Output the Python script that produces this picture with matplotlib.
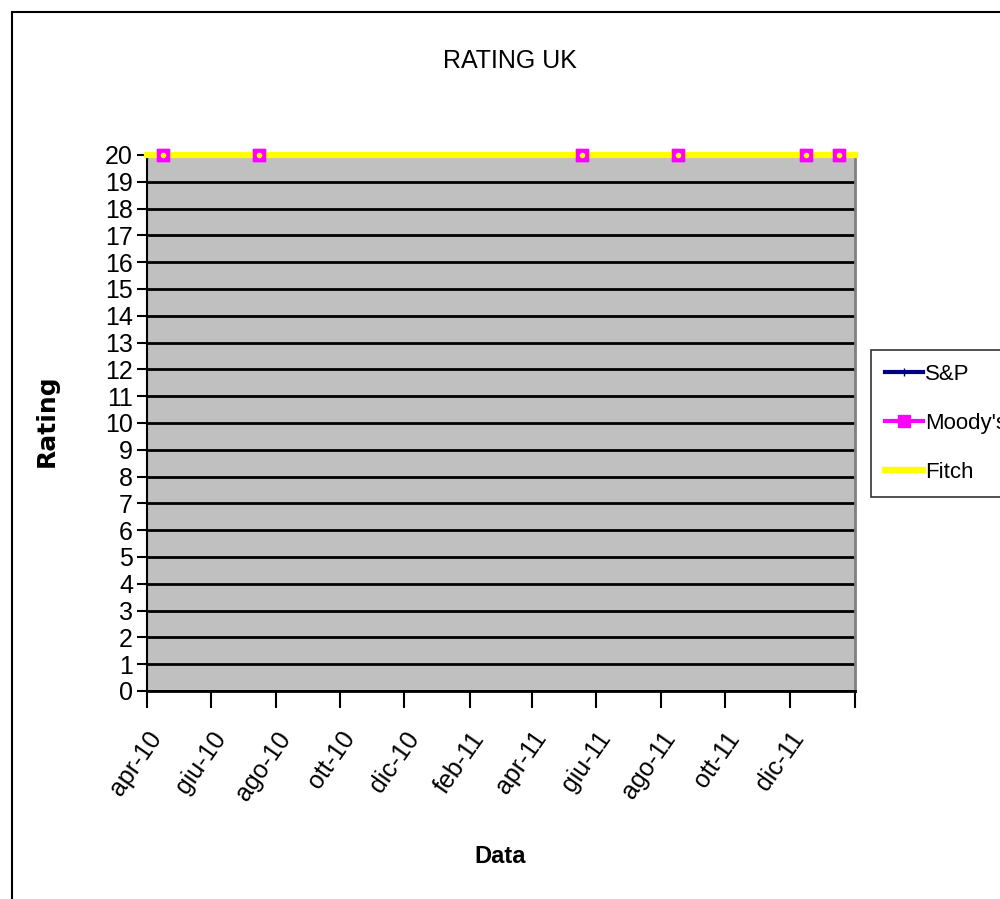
import datetime as dt
import matplotlib
matplotlib.use("Agg")
import matplotlib.pyplot as plt
from matplotlib.patches import Rectangle

# data
dates = [dt.date(2010, 4, 1), dt.date(2010, 4, 16), dt.date(2010, 7, 16),
         dt.date(2011, 5, 18), dt.date(2011, 8, 17), dt.date(2011, 12, 17),
         dt.date(2012, 1, 17), dt.date(2012, 2, 1)]
sp = [20, 20, 20, 20, 20, 20, 20, 20]
moodys = [20, 20, 20, 20, 20, 20, 20, 20]
fitch = [20, 20, 20, 20, 20, 20, 20, 20]
marked = [1, 2, 3, 4, 5, 6]

tick_dates = [dt.date(2010, 4, 1), dt.date(2010, 6, 1), dt.date(2010, 8, 1),
              dt.date(2010, 10, 1), dt.date(2010, 12, 1), dt.date(2011, 2, 1),
              dt.date(2011, 4, 1), dt.date(2011, 6, 1), dt.date(2011, 8, 1),
              dt.date(2011, 10, 1), dt.date(2011, 12, 1), dt.date(2012, 2, 1)]
tick_labels = ['apr-10', 'giu-10', 'ago-10', 'ott-10', 'dic-10', 'feb-11',
               'apr-11', 'giu-11', 'ago-11', 'ott-11', 'dic-11', '']

font = ['Liberation Sans Narrow', 'Liberation Sans', 'DejaVu Sans']

fig = plt.figure(figsize=(10, 8.99), dpi=100)
# outer chart frame (right and bottom edges fall outside the picture)
fig.patches.append(Rectangle((0.012, -0.05), 1.2, 1.037, transform=fig.transFigure,
                             fill=False, edgecolor='black', linewidth=1.5))

ax = fig.add_axes([0.147, 0.2314, 0.708, 0.5962])
ax.set_facecolor('#C0C0C0')

# lines: yellow Fitch line sits on top, Moody's markers above it
h_sp, = ax.plot(dates, sp, color='#000080', linewidth=3, marker='|', markersize=6,
                markevery=[0], label='S&P', zorder=3)
h_mo, = ax.plot(dates, moodys, color='#FF00FF', linewidth=3, marker='s',
                markersize=8, markevery=marked, label="Moody's", zorder=3.5,
                clip_on=False)
h_fi, = ax.plot(dates, fitch, color='#FFFF00', linewidth=4.5, label='Fitch',
                zorder=4, clip_on=False)
ax.plot(dates, moodys, color='#FF00FF', linestyle='none', marker='s',
        markersize=8, markevery=marked, zorder=5, clip_on=False)
ax.plot(dates, fitch, color='#FFFF00', linestyle='none', marker='o', markersize=3,
        markevery=marked, zorder=6, clip_on=False)

ax.set_xlim(dates[0], dates[-1])
ax.set_ylim(0, 20)
ax.set_yticks(range(0, 21))
ax.set_yticklabels([str(v) for v in range(0, 21)], family=font, fontsize=18)
ax.set_xticks(tick_dates)
ax.set_xticklabels(tick_labels, family=font, fontsize=18, rotation=55,
                   ha='right', rotation_mode='anchor')
ax.tick_params(axis='y', length=7, width=1.5, pad=3)
ax.tick_params(axis='x', length=12, width=1.5, pad=14)

ax.grid(axis='y', color='black', linewidth=2)
ax.set_axisbelow(True)
ax.spines['left'].set_linewidth(1.5)
ax.spines['bottom'].set_linewidth(2)
ax.spines['top'].set_color('#808080')
ax.spines['right'].set_color('#808080')
ax.spines['top'].set_linewidth(2)
ax.spines['right'].set_linewidth(2)

fig.text(0.51, 0.932, 'RATING UK', family=font, fontsize=18, ha='center', va='center')
fig.text(0.047, 0.532, 'Rating', fontsize=18, fontweight='bold', rotation=90,
         ha='center', va='center')
fig.text(0.5, 0.047, 'Data', family=font, fontsize=17, fontweight='bold',
         ha='center', va='center')

leg = ax.legend(handles=[h_sp, h_mo, h_fi], loc='upper left',
                bbox_to_anchor=(0.871, 0.611), bbox_transform=fig.transFigure,
                prop={'family': font, 'size': 16}, frameon=True, fancybox=False,
                edgecolor='black', handlelength=1.7, handletextpad=0.1,
                borderpad=0.65, labelspacing=1.25, borderaxespad=0)
leg.get_frame().set_linewidth(1.2)

fig.savefig('out.png', dpi=100)
